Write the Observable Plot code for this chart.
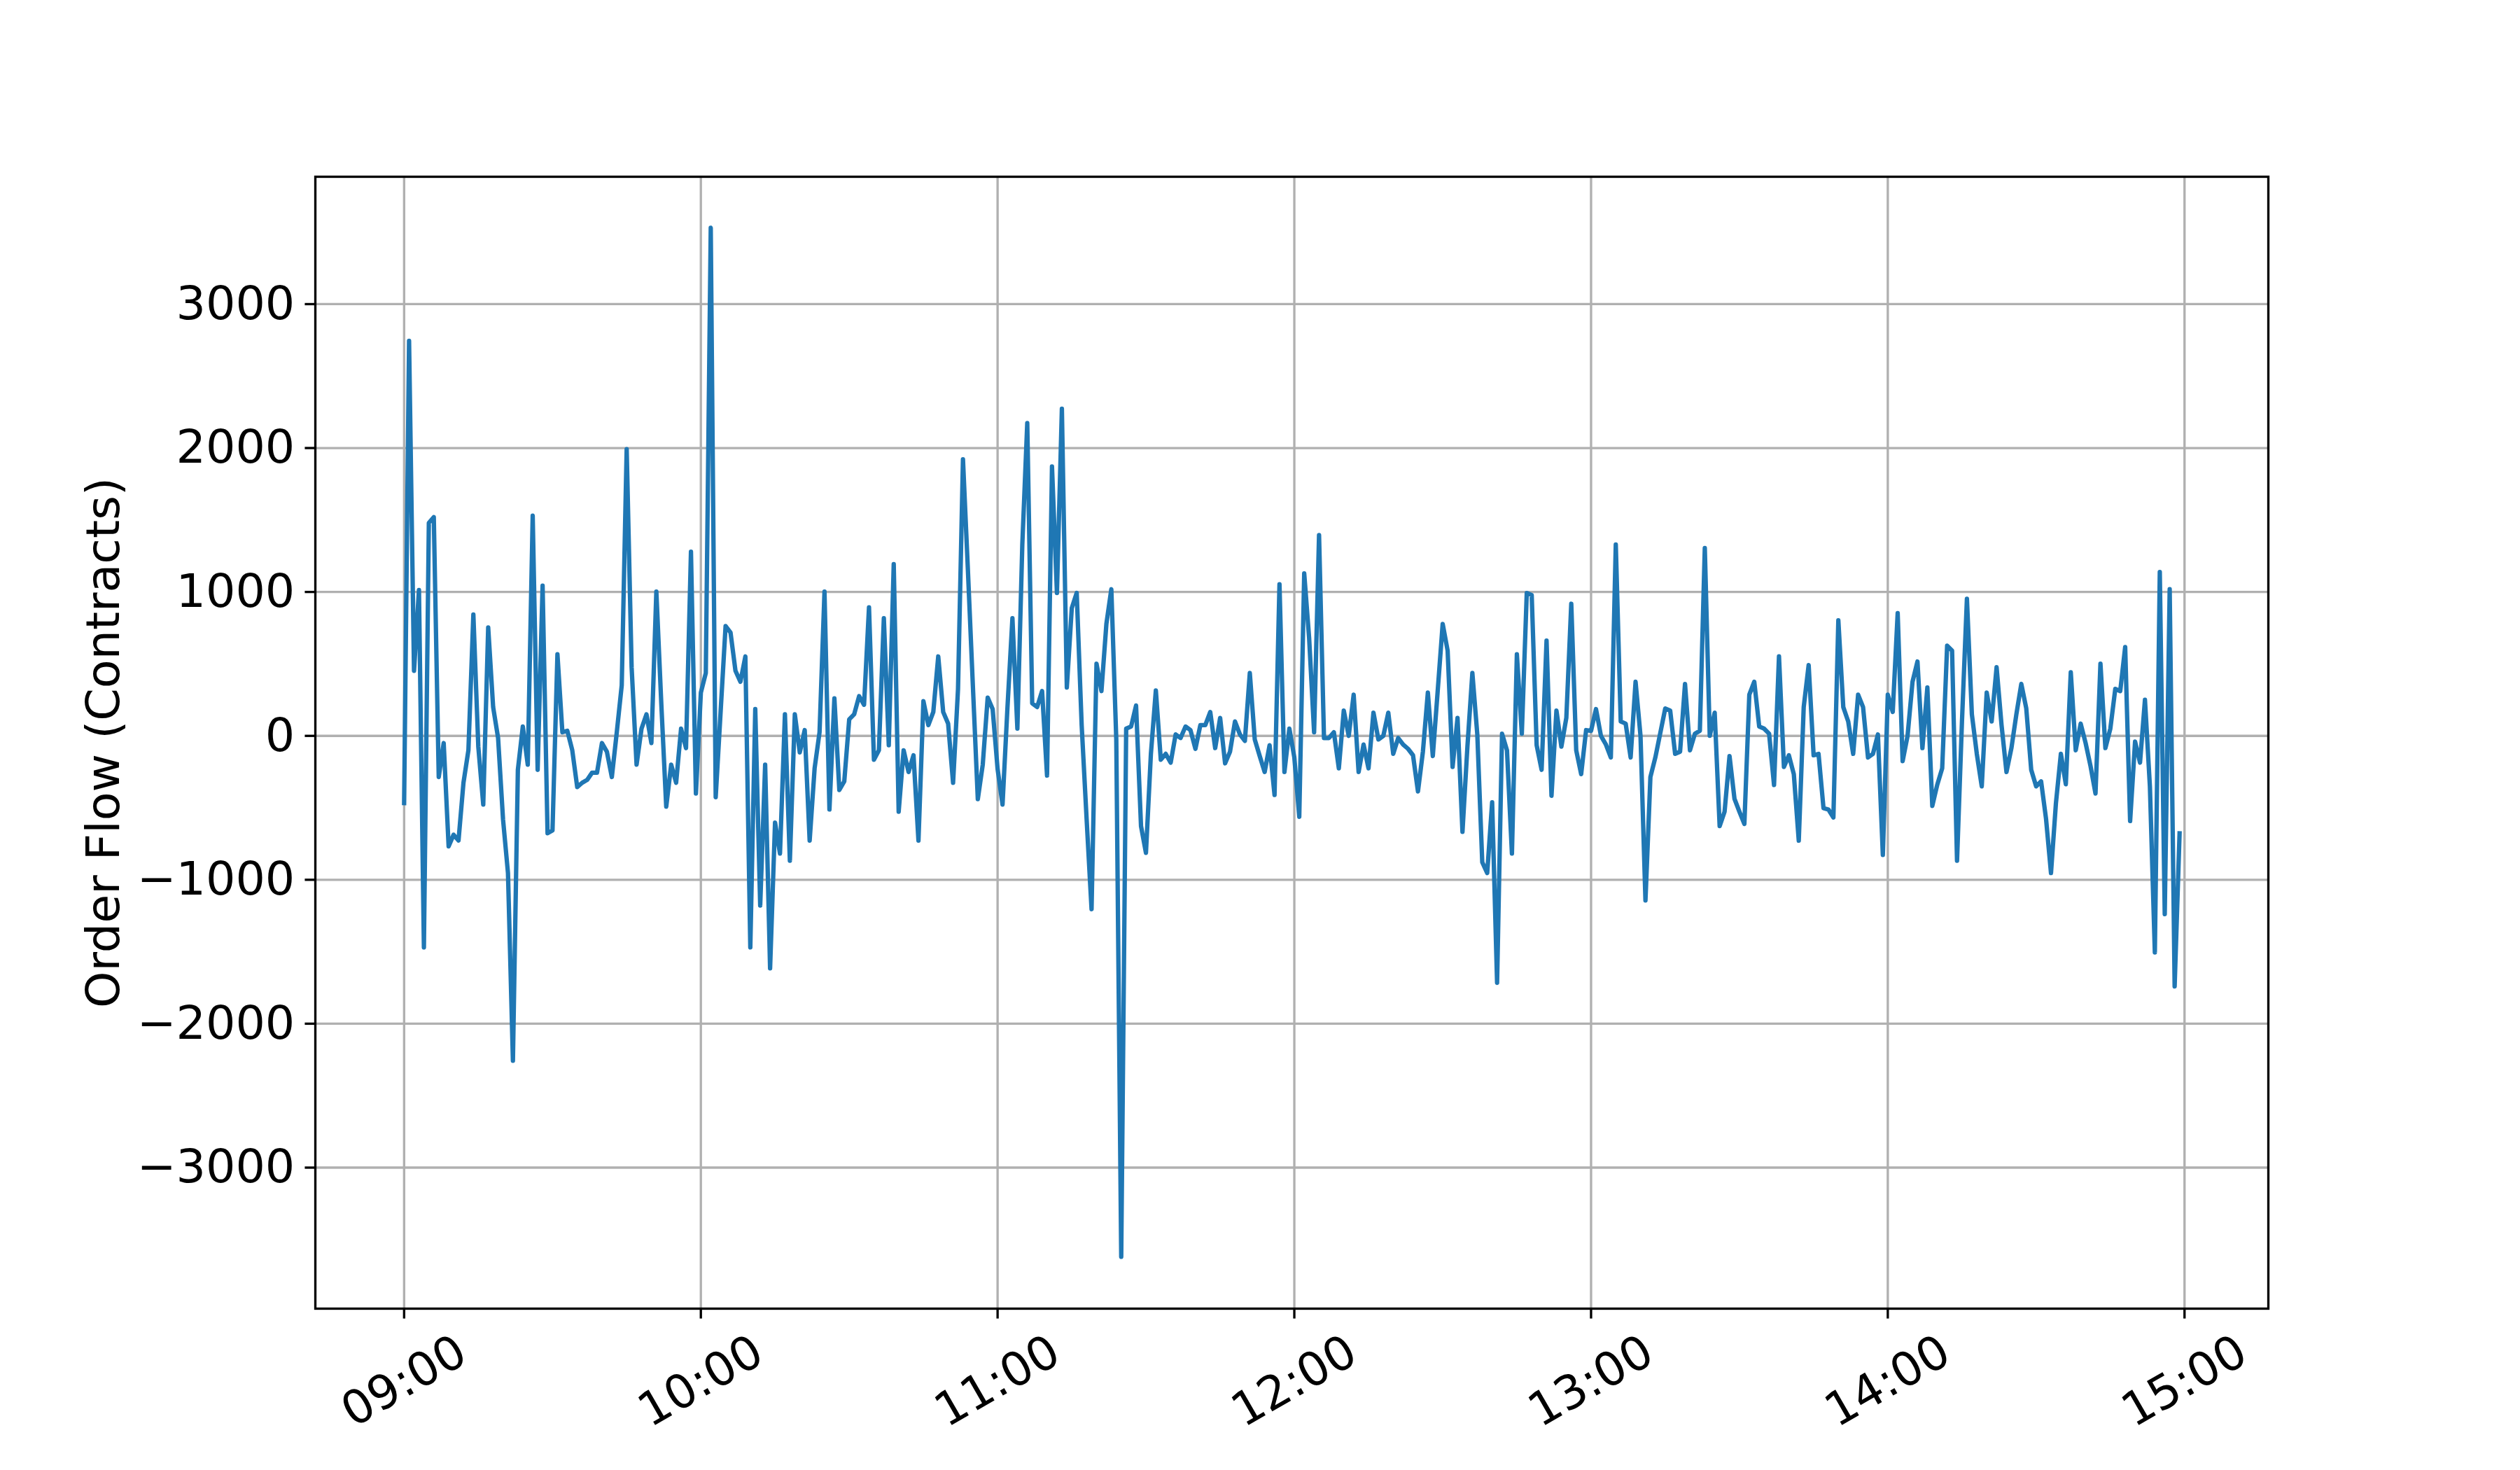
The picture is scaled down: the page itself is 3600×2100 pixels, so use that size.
<!DOCTYPE html>
<html>
<head>
<meta charset="utf-8">
<script src="https://cdn.jsdelivr.net/npm/d3@7"></script>
<script src="https://cdn.jsdelivr.net/npm/@observablehq/plot@0.6"></script>
<style>
  html, body { margin: 0; padding: 0; background: #ffffff; }
  #chart svg { display: block; }
</style>
</head>
<body>
<div id="chart"></div>
<script>
// Session date and start time of the 1-minute series
const sessionDate = "2024-01-02";
const sessionStart = "09:00";

// Order flow (contracts) per minute, one array per hour
const flow09 = [-467, 2745, 452, 1013, -1470, 1480, 1520, -286, -50, -768,
  -687, -727, -326, -100, 843, -75, -477, 753, 200, -15,
  -580, -953, -2258, -236, 65, -200, 1530, -236, 1044, -677,
  -657, 567, 25, 35, -100, -356, -326, -306, -256, -256,
  -50, -110, -286, 25, 351, 1992, 477, -200, 50, 150,
  -50, 1003, 225, -492, -200, -326, 50, -85, 1280, -401];
const flow10 = [300, 437, 3530, -426, 170, 763, 718, 452, 376, 552,
  -1470, 186, -1179, -200, -1616, -602, -818, 150, -868, 150,
  -115, 40, -728, -226, 25, 1003, -512, 261, -376, -316,
  115, 150, 276, 216, 893, -166, -100, 818, -65, 1194,
  -527, -100, -251, -135, -728, 241, 75, 166, 552, 166,
  85, -326, 326, 1922, 1150, 350, -440, -200, 266, 186];
const flow11 = [-230, -477, 200, 818, 50, 1330, 2173, 226, 200, 311,
  -276, 1872, 993, 2273, 336, 888, 993, 75, -577, -1204,
  502, 311, 778, 1019, -25, -3620, 50, 65, 211, -627,
  -813, -125, 316, -166, -125, -186, 10, -15, 65, 40,
  -90, 75, 75, 166, -85, 125, -191, -110, 100, 10,
  -35, 437, -25, -140, -251, -65, -411, 1054, -251, 50];
const flow12 = [-150, -562, 1129, 677, 25, 1395, -15, -15, 25, -226,
  176, 0, 286, -251, -60, -226, 161, -25, 0, 161,
  -125, -15, -60, -90, -135, -386, -110, 301, -140, 316,
  778, 592, -216, 125, -667, -75, 437, 10, -878, -953,
  -462, -1716, 15, -100, -818, 567, 15, 993, 978, -65,
  -236, 662, -416, 176, -75, 125, 918, -100, -266, 40];
const flow13 = [35, 186, 0, -60, -150, 1330, 100, 85, -150, 376,
  0, -1144, -286, -150, 20, 190, 176, -125, -110, 361,
  -100, 15, 35, 1305, 0, 161, -627, -527, -140, -437,
  -527, -612, 286, 376, 65, 50, 15, -341, 552, -216,
  -135, -266, -728, 200, 492, -135, -125, -502, -512, -567,
  803, 200, 100, -125, 286, 200, -150, -125, 10, -828];
const flow14 = [286, 166, 853, -176, 0, 376, 517, -85, 336, -487,
  -340, -226, 627, 592, -868, 100, 953, 150, -125, -351,
  301, 100, 477, 75, -251, -85, 150, 361, 191, -236,
  -351, -316, -577, -953, -467, -125, -336, 442, -100, 85,
  -50, -211, -401, 502, -85, 50, 326, 311, 617, -592,
  -40, -186, 251, -351, -1505, 1139, -1239, 1019, -1741, -677];

// Axis ticks
const xTickLabels = ["09:00", "10:00", "11:00", "12:00", "13:00", "14:00", "15:00"];
const yTickValues = [-3000, -2000, -1000, 0, 1000, 2000, 3000];
const yLabel = "Order Flow (Contracts)";

// Build table
const parseT = d3.timeParse("%Y-%m-%d %H:%M");
const t0 = parseT(sessionDate + " " + sessionStart);
const flows = [].concat(flow09, flow10, flow11, flow12, flow13, flow14);
const data = flows.map((v, i) => ({time: d3.timeMinute.offset(t0, i), flow: v}));
const xTicks = xTickLabels.map(s => parseT(sessionDate + " " + s));

// matplotlib-style 5% margins on x
const tMin = data[0].time, tMax = data[data.length - 1].time;
const span = tMax - tMin;
const xDomain = [new Date(+tMin - 0.05 * span), new Date(+tMax + 0.05 * span)];

const LW = 3.33;
const FS = 66.7;

const chart = Plot.plot({
  width: 3600,
  height: 2100,
  marginLeft: 450,
  marginRight: 360,
  marginTop: 252,
  marginBottom: 231,
  style: {fontFamily: "'DejaVu Sans', sans-serif", fontSize: FS + "px", background: "#ffffff", color: "#000000"},
  x: {type: "time", domain: xDomain},
  y: {domain: [-3980, 3885]},
  marks: [
    Plot.gridX(xTicks, {stroke: "#b0b0b0", strokeOpacity: 1, strokeWidth: LW}),
    Plot.gridY(yTickValues, {stroke: "#b0b0b0", strokeOpacity: 1, strokeWidth: LW}),
    Plot.lineY(data, {x: "time", y: "flow", stroke: "#1f77b4", strokeWidth: 6.25, strokeLinejoin: "round", strokeLinecap: "square"}),
    Plot.frame({stroke: "#000000", strokeWidth: LW}),
    Plot.axisY(yTickValues, {tickSize: 14.6, tickPadding: 14.6, strokeWidth: LW, tickFormat: d3.format("d"), label: null, fontSize: FS}),
    Plot.axisX(xTicks, {tickSize: 14.6, strokeWidth: LW, tickFormat: () => "", label: null}),
    Plot.text(xTicks, {x: d => d, text: (d, i) => xTickLabels[i], frameAnchor: "bottom", dy: 104, rotate: -30, textAnchor: "middle", lineAnchor: "middle", fontSize: FS, fill: "#000000"}),
    Plot.text([yLabel], {text: d => d, frameAnchor: "left", dx: -302, rotate: -90, textAnchor: "middle", lineAnchor: "middle", fontSize: FS, fill: "#000000"})
  ]
});
document.getElementById("chart").appendChild(chart);
</script>
</body>
</html>
